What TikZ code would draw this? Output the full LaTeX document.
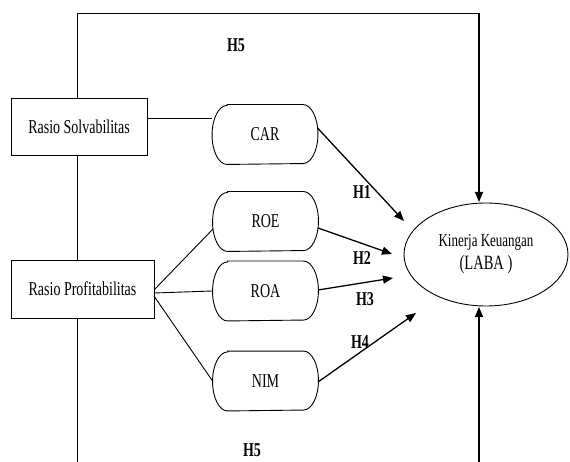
\documentclass[tikz,border=0pt]{standalone}
\usepackage{fontspec}
\setmainfont{Liberation Serif}
\usetikzlibrary{arrows.meta,shapes.geometric}
\newcommand{\tallt}[1]{\scalebox{1}[1.4]{#1}}
\begin{document}
\begin{tikzpicture}[x=1pt,y=-1pt,
  line width=0.9pt,
  box/.style={draw,rectangle,minimum width=#1,minimum height=57pt,inner sep=0pt,font=\fontsize{14}{16}\selectfont},
  pill/.style={rectangle,minimum width=105pt,minimum height=59pt,inner sep=0pt,font=\fontsize{14}{16}\selectfont},
  hlab/.style={font=\bfseries\fontsize{14}{16}\selectfont,inner sep=0pt},
  arr/.style={-{Triangle[length=10pt,width=8pt]},line width=1.3pt}]
\useasboundingbox (0,0) rectangle (570,462);
\node[box=136pt] (sol) at (79,127) {\tallt{Rasio Solvabilitas}};
\node[box=143pt,minimum height=58pt] (pro) at (82.5,289) {\tallt{Rasio Profitabilitas}};
\node[pill] (car) at (265,134.5) {\tallt{CAR}};
\node[pill] (roe) at (265.5,221.5) {\tallt{ROE}};
\node[pill] (roa) at (265.5,291) {\tallt{ROA}};
\node[pill] (nim) at (265.5,381) {\tallt{NIM}};
\foreach \n in {car,roe,roa,nim}{
  \draw ([xshift=15pt]\n.north west) -- ([xshift=-15pt]\n.north east)
    arc[start angle=90,end angle=-90,x radius=15pt,y radius=29.5pt]
    -- ([xshift=15pt]\n.south west)
    arc[start angle=270,end angle=90,x radius=15pt,y radius=29.5pt] -- cycle;
}
\node[draw,ellipse,minimum width=164pt,minimum height=103pt,inner sep=0pt,align=center,font=\fontsize{13}{15}\selectfont] (kin) at (486,254.5) {\tallt{Kinerja Keuangan}\\[4pt]{\fontsize{14.5}{16}\selectfont\tallt{(LABA )}}};
\coordinate (tl) at (77,13);
\coordinate (tr) at (479,13);
\coordinate (bl) at (77,462);
\coordinate (br) at (479,462);
\coordinate (solbot) at (77,155.5);
\coordinate (protop) at (77,260);
\coordinate (probot) at (77,318);
\draw (sol.north -| tl) -- (tl) -- (tr);
\draw[arr] (tr) -- (479,202);
\draw (solbot) -- (protop);
\draw (probot) -- (bl);
\draw[arr] (br) -- (479,307);
\draw (sol.east |- 0,118) -- (car.west |- 0,118);
\draw (154,290) -- (213,229);
\draw (154,293) -- (roa.west);
\draw (154,296) -- (nim.west);
\draw[arr] (317.5,128) -- (404,221);
\draw[arr] (318,228) -- (392,254);
\draw[arr] (318,290) -- (393,278);
\draw[arr] (318,382) -- (416,313);
\node[hlab] (h5a) at (236,45) {\tallt{H5}};
\node[hlab] (h5b) at (252,450) {\tallt{H5}};
\node[hlab] (h1) at (362,192) {\tallt{H1}};
\node[hlab] (h2) at (362,258) {\tallt{H2}};
\node[hlab] (h3) at (365,299) {\tallt{H3}};
\node[hlab] (h4) at (360,342) {\tallt{H4}};
\end{tikzpicture}
\end{document}
